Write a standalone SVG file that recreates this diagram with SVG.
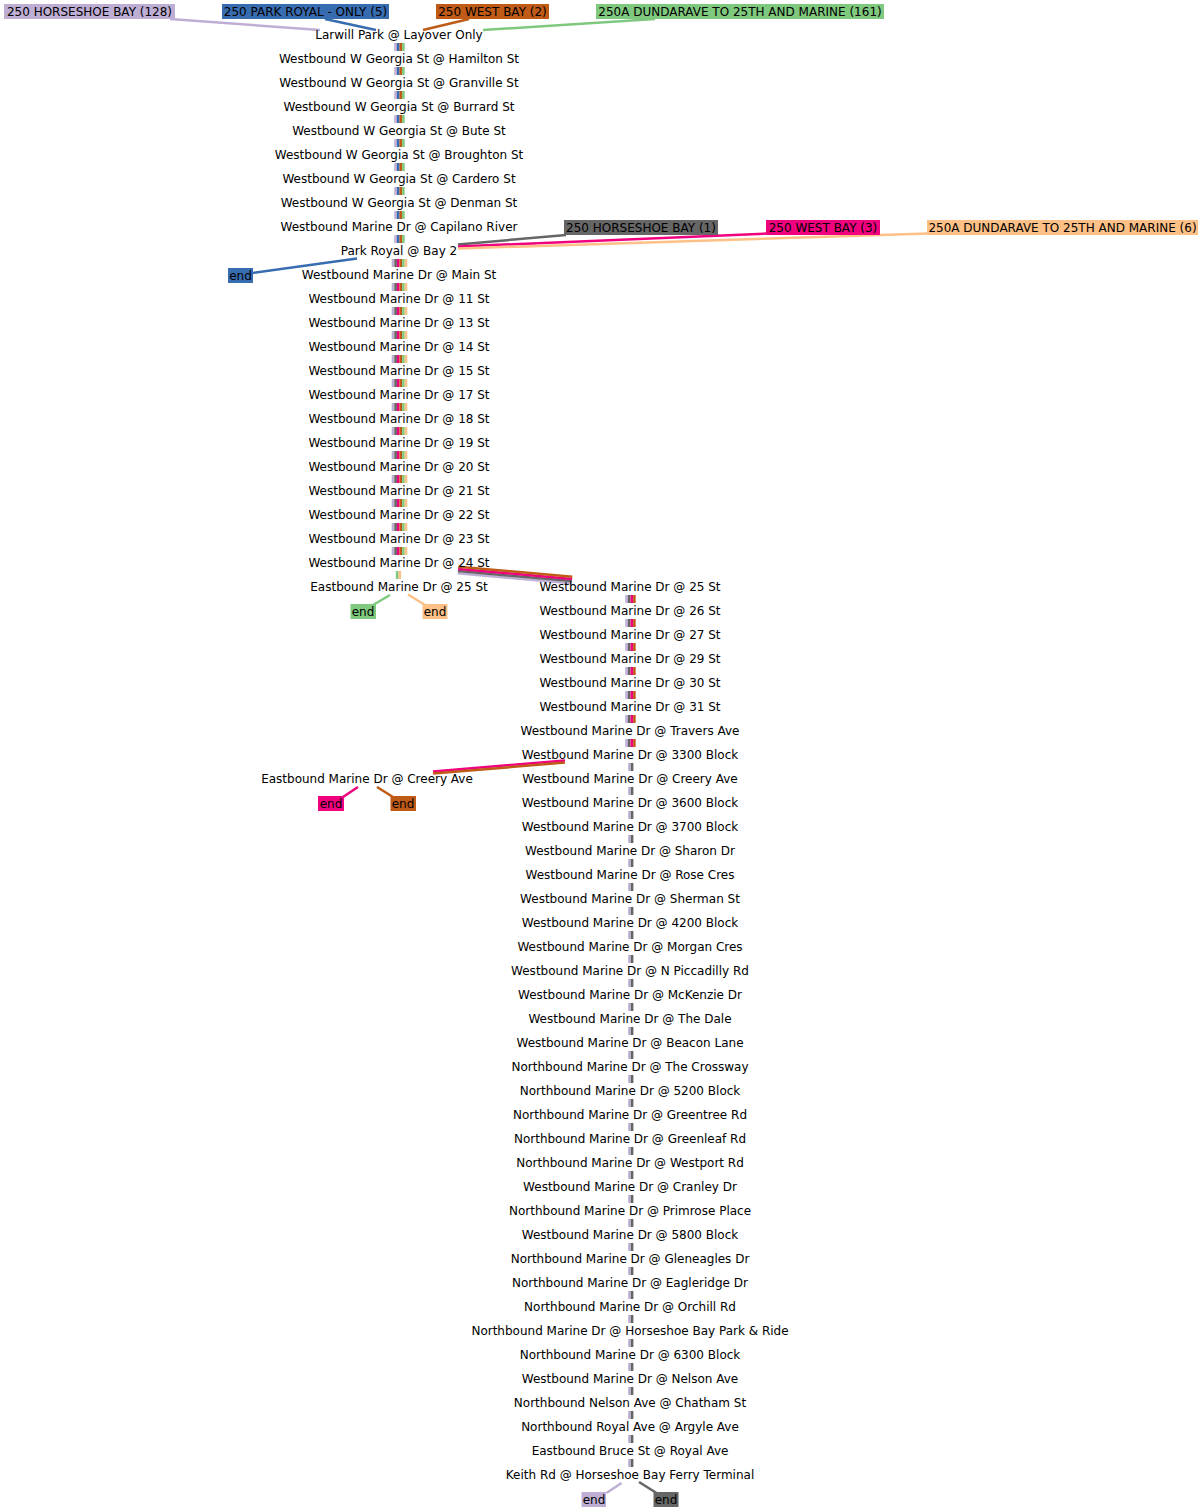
<svg xmlns="http://www.w3.org/2000/svg" width="1204" height="1512" viewBox="0 0 1204 1512">
<style>
text{font-family:"DejaVu Sans","Noto Sans",sans-serif;font-size:12px;fill:#000}
.stop text{text-anchor:middle}
.lbl text{text-anchor:middle}
.c line,.c path{fill:none;stroke-width:2.5}
.v{stroke-width:2.6 !important;stroke-dasharray:8 16}
.pu{stroke:#beaed4}.bl{stroke:#386cb0}.br{stroke:#bf5b17}.gr{stroke:#7fc97f}.gy{stroke:#666666}.pk{stroke:#f0027f}.pc{stroke:#fdc086}
.fpu{fill:#beaed4}.fbl{fill:#386cb0}.fbr{fill:#bf5b17}.fgr{fill:#7fc97f}.fgy{fill:#666666}.fpk{fill:#f0027f}.fpc{fill:#fdc086}
</style>
<rect width="1204" height="1512" fill="#fff"/>
<g id="connectors" class="c">
<!-- route labels to first stop -->
<line class="pu" x1="170" y1="19" x2="320" y2="30"/>
<line class="bl" x1="325" y1="19" x2="376" y2="30"/>
<line class="br" x1="469" y1="19" x2="423" y2="30"/>
<line class="gr" x1="655" y1="19" x2="483" y2="30"/>
<!-- column 1 trunk -->
<line class="v pu" x1="395.6" y1="43" x2="395.6" y2="243"/>
<line class="v bl" x1="398.2" y1="43" x2="398.2" y2="243"/>
<line class="v br" x1="400.8" y1="43" x2="400.8" y2="243"/>
<line class="v gr" x1="403.4" y1="43" x2="403.4" y2="243"/>
<!-- Park Royal joins -->
<line class="gy" x1="458" y1="244.5" x2="566" y2="235"/>
<line class="pk" x1="458" y1="246.5" x2="767" y2="233.5"/>
<line class="pc" x1="458" y1="248.5" x2="928" y2="233.5"/>
<line class="bl" x1="357" y1="258.5" x2="253" y2="273"/>
<line class="v pu" x1="393.0" y1="259" x2="393.0" y2="555"/>
<line class="v gy" x1="395.6" y1="259" x2="395.6" y2="555"/>
<line class="v pk" x1="398.2" y1="259" x2="398.2" y2="555"/>
<line class="v br" x1="400.8" y1="259" x2="400.8" y2="555"/>
<line class="v gr" x1="403.4" y1="259" x2="403.4" y2="555"/>
<line class="v pc" x1="406.0" y1="259" x2="406.0" y2="555"/>
<!-- 24 St to Eastbound 25 St -->
<line class="v gr" x1="397.2" y1="571" x2="397.2" y2="579"/>
<line class="v pc" x1="399.8" y1="571" x2="399.8" y2="579"/>
<line class="gr" x1="390" y1="595" x2="373" y2="605"/>
<line class="pc" x1="408" y1="594.5" x2="425" y2="605"/>
<!-- 24 St to Westbound 25 St -->
<line class="pu" x1="457.7" y1="573.3" x2="571.7" y2="583.3"/>
<line class="gy" x1="457.9" y1="571.1" x2="571.9" y2="581.1"/>
<line class="pk" x1="458.1" y1="568.9" x2="572.1" y2="578.9"/>
<line class="br" x1="458.3" y1="566.7" x2="572.3" y2="576.7"/>
<!-- column 2 -->
<line class="v pu" x1="626.6" y1="595" x2="626.6" y2="747"/>
<line class="v gy" x1="629.2" y1="595" x2="629.2" y2="747"/>
<line class="v pk" x1="631.8" y1="595" x2="631.8" y2="747"/>
<line class="v br" x1="634.4" y1="595" x2="634.4" y2="747"/>
<line class="pk" x1="565" y1="760.4" x2="433" y2="771.4"/>
<line class="br" x1="565" y1="762.6" x2="433" y2="773.6"/>
<line class="pk" x1="358" y1="787" x2="343" y2="797"/>
<line class="br" x1="377" y1="787" x2="393" y2="797"/>
<line class="v pu" x1="629.5" y1="763" x2="629.5" y2="1467"/>
<line class="v gy" x1="632.1" y1="763" x2="632.1" y2="1467"/>
<line class="pu" x1="621.5" y1="1483" x2="606.5" y2="1493"/>
<line class="gy" x1="639" y1="1482" x2="656.5" y2="1493"/>
</g>
<g id="route-labels" class="lbl">
<g id="lbl-hb128"><rect class="fpu" x="4" y="4" width="171" height="15"/><text x="89.5" y="15.8">250 HORSESHOE BAY (128)</text></g>
<g id="lbl-pr5"><rect class="fbl" x="222" y="4" width="167" height="15"/><text x="305.5" y="15.8">250 PARK ROYAL - ONLY (5)</text></g>
<g id="lbl-wb2"><rect class="fbr" x="436" y="4" width="113" height="15"/><text x="492.5" y="15.8">250 WEST BAY (2)</text></g>
<g id="lbl-dun161"><rect class="fgr" x="596" y="4" width="288" height="15"/><text x="740" y="15.8">250A DUNDARAVE TO 25TH AND MARINE (161)</text></g>
<g id="lbl-hb1"><rect class="fgy" x="564" y="220" width="154" height="15"/><text x="641" y="231.8">250 HORSESHOE BAY (1)</text></g>
<g id="lbl-wb3"><rect class="fpk" x="766" y="220" width="114" height="15"/><text x="823" y="231.8">250 WEST BAY (3)</text></g>
<g id="lbl-dun6"><rect class="fpc" x="927" y="220" width="271" height="15"/><text x="1062.5" y="231.8">250A DUNDARAVE TO 25TH AND MARINE (6)</text></g>
<g id="end-pr5"><rect class="fbl" x="228" y="268" width="25" height="15"/><text x="240.5" y="279.8">end</text></g>
<g id="end-dun161"><rect class="fgr" x="350.5" y="604" width="25.5" height="15"/><text x="363" y="615.8">end</text></g>
<g id="end-dun6"><rect class="fpc" x="422.5" y="604" width="25" height="15"/><text x="435" y="615.8">end</text></g>
<g id="end-wb3"><rect class="fpk" x="318" y="796" width="26" height="15"/><text x="331" y="807.8">end</text></g>
<g id="end-wb2"><rect class="fbr" x="390.5" y="796" width="25.5" height="15"/><text x="403" y="807.8">end</text></g>
<g id="end-hb128"><rect class="fpu" x="581.5" y="1492" width="24.5" height="15"/><text x="594" y="1503.8">end</text></g>
<g id="end-hb1"><rect class="fgy" x="653.5" y="1492" width="25" height="15"/><text x="666" y="1503.8">end</text></g>
</g>
<g id="stops" class="stop">
<g id="s-larwill"><text x="399" y="39.3">Larwill Park @ Layover Only</text></g>
<g id="s-hamilton"><text x="399" y="63.3">Westbound W Georgia St @ Hamilton St</text></g>
<g id="s-granville"><text x="399" y="87.3">Westbound W Georgia St @ Granville St</text></g>
<g id="s-burrard"><text x="399" y="111.3">Westbound W Georgia St @ Burrard St</text></g>
<g id="s-bute"><text x="399" y="135.3">Westbound W Georgia St @ Bute St</text></g>
<g id="s-broughton"><text x="399" y="159.3">Westbound W Georgia St @ Broughton St</text></g>
<g id="s-cardero"><text x="399" y="183.3">Westbound W Georgia St @ Cardero St</text></g>
<g id="s-denman"><text x="399" y="207.3">Westbound W Georgia St @ Denman St</text></g>
<g id="s-capilano"><text x="399" y="231.3">Westbound Marine Dr @ Capilano River</text></g>
<g id="s-parkroyal"><text x="399" y="255.3">Park Royal @ Bay 2</text></g>
<g id="s-main"><text x="399" y="279.3">Westbound Marine Dr @ Main St</text></g>
<g id="s-11"><text x="399" y="303.3">Westbound Marine Dr @ 11 St</text></g>
<g id="s-13"><text x="399" y="327.3">Westbound Marine Dr @ 13 St</text></g>
<g id="s-14"><text x="399" y="351.3">Westbound Marine Dr @ 14 St</text></g>
<g id="s-15"><text x="399" y="375.3">Westbound Marine Dr @ 15 St</text></g>
<g id="s-17"><text x="399" y="399.3">Westbound Marine Dr @ 17 St</text></g>
<g id="s-18"><text x="399" y="423.3">Westbound Marine Dr @ 18 St</text></g>
<g id="s-19"><text x="399" y="447.3">Westbound Marine Dr @ 19 St</text></g>
<g id="s-20"><text x="399" y="471.3">Westbound Marine Dr @ 20 St</text></g>
<g id="s-21"><text x="399" y="495.3">Westbound Marine Dr @ 21 St</text></g>
<g id="s-22"><text x="399" y="519.3">Westbound Marine Dr @ 22 St</text></g>
<g id="s-23"><text x="399" y="543.3">Westbound Marine Dr @ 23 St</text></g>
<g id="s-24"><text x="399" y="567.3">Westbound Marine Dr @ 24 St</text></g>
<g id="s-e25"><text x="399" y="591.3">Eastbound Marine Dr @ 25 St</text></g>
<g id="s-w25"><text x="630" y="591.3">Westbound Marine Dr @ 25 St</text></g>
<g id="s-26"><text x="630" y="615.3">Westbound Marine Dr @ 26 St</text></g>
<g id="s-27"><text x="630" y="639.3">Westbound Marine Dr @ 27 St</text></g>
<g id="s-29"><text x="630" y="663.3">Westbound Marine Dr @ 29 St</text></g>
<g id="s-30"><text x="630" y="687.3">Westbound Marine Dr @ 30 St</text></g>
<g id="s-31"><text x="630" y="711.3">Westbound Marine Dr @ 31 St</text></g>
<g id="s-travers"><text x="630" y="735.3">Westbound Marine Dr @ Travers Ave</text></g>
<g id="s-3300"><text x="630" y="759.3">Westbound Marine Dr @ 3300 Block</text></g>
<g id="s-creery-w"><text x="630" y="783.3">Westbound Marine Dr @ Creery Ave</text></g>
<g id="s-creery-e"><text x="367" y="783.3">Eastbound Marine Dr @ Creery Ave</text></g>
<g id="s-3600"><text x="630" y="807.3">Westbound Marine Dr @ 3600 Block</text></g>
<g id="s-3700"><text x="630" y="831.3">Westbound Marine Dr @ 3700 Block</text></g>
<g id="s-sharon"><text x="630" y="855.3">Westbound Marine Dr @ Sharon Dr</text></g>
<g id="s-rose"><text x="630" y="879.3">Westbound Marine Dr @ Rose Cres</text></g>
<g id="s-sherman"><text x="630" y="903.3">Westbound Marine Dr @ Sherman St</text></g>
<g id="s-4200"><text x="630" y="927.3">Westbound Marine Dr @ 4200 Block</text></g>
<g id="s-morgan"><text x="630" y="951.3">Westbound Marine Dr @ Morgan Cres</text></g>
<g id="s-piccadilly"><text x="630" y="975.3">Westbound Marine Dr @ N Piccadilly Rd</text></g>
<g id="s-mckenzie"><text x="630" y="999.3">Westbound Marine Dr @ McKenzie Dr</text></g>
<g id="s-dale"><text x="630" y="1023.3">Westbound Marine Dr @ The Dale</text></g>
<g id="s-beacon"><text x="630" y="1047.3">Westbound Marine Dr @ Beacon Lane</text></g>
<g id="s-crossway"><text x="630" y="1071.3">Northbound Marine Dr @ The Crossway</text></g>
<g id="s-5200"><text x="630" y="1095.3">Northbound Marine Dr @ 5200 Block</text></g>
<g id="s-greentree"><text x="630" y="1119.3">Northbound Marine Dr @ Greentree Rd</text></g>
<g id="s-greenleaf"><text x="630" y="1143.3">Northbound Marine Dr @ Greenleaf Rd</text></g>
<g id="s-westport"><text x="630" y="1167.3">Northbound Marine Dr @ Westport Rd</text></g>
<g id="s-cranley"><text x="630" y="1191.3">Westbound Marine Dr @ Cranley Dr</text></g>
<g id="s-primrose"><text x="630" y="1215.3">Northbound Marine Dr @ Primrose Place</text></g>
<g id="s-5800"><text x="630" y="1239.3">Westbound Marine Dr @ 5800 Block</text></g>
<g id="s-gleneagles"><text x="630" y="1263.3">Northbound Marine Dr @ Gleneagles Dr</text></g>
<g id="s-eagleridge"><text x="630" y="1287.3">Northbound Marine Dr @ Eagleridge Dr</text></g>
<g id="s-orchill"><text x="630" y="1311.3">Northbound Marine Dr @ Orchill Rd</text></g>
<g id="s-parkride"><text x="630" y="1335.3">Northbound Marine Dr @ Horseshoe Bay Park &amp; Ride</text></g>
<g id="s-6300"><text x="630" y="1359.3">Northbound Marine Dr @ 6300 Block</text></g>
<g id="s-nelson"><text x="630" y="1383.3">Westbound Marine Dr @ Nelson Ave</text></g>
<g id="s-chatham"><text x="630" y="1407.3">Northbound Nelson Ave @ Chatham St</text></g>
<g id="s-argyle"><text x="630" y="1431.3">Northbound Royal Ave @ Argyle Ave</text></g>
<g id="s-bruce"><text x="630" y="1455.3">Eastbound Bruce St @ Royal Ave</text></g>
<g id="s-keith"><text x="630" y="1479.3">Keith Rd @ Horseshoe Bay Ferry Terminal</text></g>
</g>
</svg>
